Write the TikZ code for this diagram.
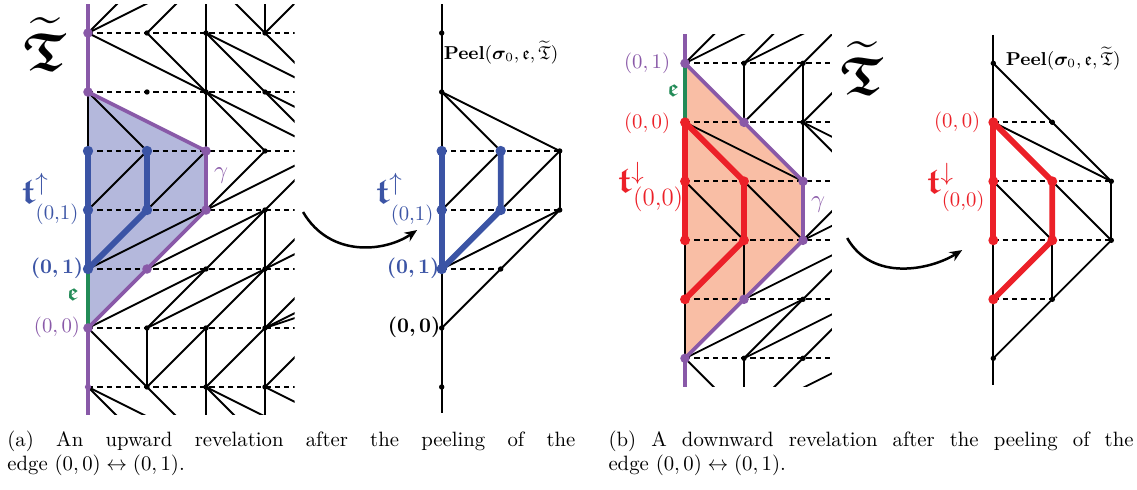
\documentclass[tikz,border=0pt]{standalone}
\usepackage{amsmath,amssymb,bm}
\usetikzlibrary{arrows.meta}
\definecolor{myblue}{RGB}{59,84,165}
\definecolor{mypurple}{RGB}{137,89,168}
\definecolor{mygreen}{RGB}{34,139,87}
\definecolor{myred}{RGB}{236,32,40}
\definecolor{shadeblue}{RGB}{180,184,220}
\definecolor{shadesalmon}{RGB}{249,190,165}
\tikzset{
  edge/.style={line width=0.9pt, black},
  dsh/.style={line width=0.9pt, black, dash pattern=on 2.6pt off 1.9pt},
  pur/.style={line width=1.8pt, mypurple, line cap=round, line join=round},
  grn/.style={line width=1.8pt, mygreen},
  thkblue/.style={line width=2.8pt, myblue, line cap=round, line join=round},
  thkred/.style={line width=2.8pt, myred, line cap=round, line join=round},
  bdot/.style={circle, fill=black, inner sep=0pt, minimum size=2.6pt},
  pdot/.style={circle, fill=mypurple, inner sep=0pt, minimum size=4.6pt},
  bldot/.style={circle, fill=myblue, inner sep=0pt, minimum size=5pt},
  rdot/.style={circle, fill=myred, inner sep=0pt, minimum size=4.8pt},
  lbl/.style={inner sep=0pt},
  arr/.style={line width=1.2pt, -{Stealth[length=6pt,width=5pt]}},
}
\begin{document}
\begin{tikzpicture}[x=1cm,y=-1cm]
\useasboundingbox (0,0) rectangle ({1137/59},{489/59});

% ================= Panel A =================
\begin{scope}[shift={({88/59},{33/59})}]
  \foreach \c in {0,...,6} \foreach \r in {-1,...,7} \coordinate (A\c_\r) at (\c,\r);
  \fill[shadeblue] (A0_1) -- (A2_2) -- (A2_3) -- (A1_4) -- (A0_5) -- cycle;
  \begin{scope}
    \clip (-0.3,-0.49) rectangle (3.5,6.47);
    \foreach \r in {0,...,6} \draw[dsh] (A0_\r) -- (A4_\r);
    \foreach \a/\b in {0_0/1_-1, 0_0/2_-1, 1_0/2_-1, 3_0/2_-1, 3_0/4_-1, 3_0/3_-1, 2_-1/2_2,
      0_0/2_1, 2_1/4_2, 1_0/2_1, 2_1/3_2, 2_0/4_1, 2_0/3_1, 3_1/4_2, 3_1/5_2, 3_0/4_1,
      0_1/1_2, 0_3/1_2, 1_3/2_2, 0_4/2_3, 3_2/2_3, 2_3/4_2, 3_3/4_2,
      0_1/0_2, 1_4/3_3, 1_5/2_4, 2_4/3_3, 0_5/2_4, 1_5/3_4, 2_5/3_4, 3_4/4_3, 3_4/5_3,
      3_3/3_7, 1_5/1_6, 0_5/1_6, 1_6/2_5, 2_5/2_7,
      2_6/3_5, 3_5/4_4, 3_5/5_4, 3_5/6_4,
      0_6/1_7, 0_6/2_7, 1_6/2_7, 2_6/3_7, 2_6/4_7, 3_6/4_5, 3_6/5_7}
      \draw[edge] (A\a) -- (A\b);
    % column 0
    \draw[pur] (0,-0.6) -- (A0_1);
    \draw[pur] (A0_5) -- (0,6.6);
  \end{scope}
  \draw[grn] (A0_4) -- (A0_5);
  \draw[pur] (A0_1) -- (A2_2) -- (A2_3) -- (A1_4) -- (A0_5);
  \draw[thkblue] (A0_2) -- (A0_4);
  \draw[thkblue] (A1_2) -- (A1_3) -- (A0_4);
  \foreach \p in {1_0,2_0,3_0,1_1,2_1,3_1,3_2,3_3,2_4,3_4,1_5,2_5,3_5,1_6,2_6,3_6}
    \node[bdot] (dA\p) at (A\p) {};
  \foreach \p in {0_0,0_1,2_2,2_3,1_4,0_5}
    \node[pdot] (dA\p) at (A\p) {};
  \node[pdot, minimum size=3pt] (dA0_6) at (A0_6) {};
  \foreach \p in {0_2,1_2,0_3,1_3,0_4}
    \node[bldot] (dA\p) at (A\p) {};
\end{scope}

% ================= Panel B =================
\begin{scope}[shift={({441.7/59},{33/59})}]
  \foreach \c in {0,...,2} \foreach \r in {0,...,6} \coordinate (B\c_\r) at (\c,\r);
  \coordinate (Btop) at (0,-0.49);
  \coordinate (Bbot) at (0,6.44);
  \draw[edge] (Btop) -- (Bbot);
  \draw[dsh] (B0_2) -- (B2_2);
  \draw[dsh] (B0_3) -- (B2_3);
  \draw[dsh] (B0_4) -- (B1_4);
  \foreach \a/\b in {0_1/1_2, 0_1/2_2, 0_3/1_2, 1_3/2_2, 2_2/2_3, 0_4/2_3, 0_5/2_3}
    \draw[edge] (B\a) -- (B\b);
  \draw[thkblue] (B0_2) -- (B0_4);
  \draw[thkblue] (B1_2) -- (B1_3) -- (B0_4);
  \foreach \p in {0_0,0_1,0_5,0_6,1_4,2_2,2_3}
    \node[bdot] (dB\p) at (B\p) {};
  \foreach \p in {0_2,0_3,0_4,1_2,1_3}
    \node[bldot] (dB\p) at (B\p) {};
\end{scope}

% ================= Panel C =================
\begin{scope}[shift={({685/59},{63.3/59})}]
  \foreach \c in {0,...,4} \foreach \r in {-1,...,6} \coordinate (C\c_\r) at (\c,\r);
  \fill[shadesalmon] (C0_0) -- (C1_1) -- (C2_2) -- (C2_3) -- (C1_4) -- (C0_5) -- cycle;
  \begin{scope}
    \clip (-0.3,-0.48) rectangle (2.49,5.48);
    \foreach \r in {0,...,5} \draw[dsh] (C0_\r) -- (C3_\r);
    \foreach \a/\b in {0_0/1_-1, 0_0/2_-1, 1_0/2_-1, 1_0/3_-1, 2_0/3_-1,
      1_0/1_1, 1_1/2_0, 2_0/2_2, 2_1/3_0, 2_1/4_2, 2_1/3_2,
      0_1/2_2, 0_2/1_3, 1_2/2_3, 1_3/1_4,
      2_3/3_2, 2_3/4_2,
      1_4/3_3, 2_4/3_3, 0_5/2_4, 1_5/2_4, 1_5/3_4, 2_5/3_4,
      0_5/1_6, 1_5/1_6, 2_5/1_6, 1_6/3_5, 0_3/0_5}
      \draw[edge] (C\a) -- (C\b);
    \draw[pur] (0,-0.6) -- (C0_0);
    \draw[pur] (C0_5) -- (0,5.6);
  \end{scope}
  \draw[grn] (C0_0) -- (C0_1);
  \draw[pur] (C0_0) -- (C2_2) -- (C2_3) -- (C0_5);
  \draw[thkred] (C0_1) -- (C0_3);
  \draw[thkred] (C0_1) -- (C1_2) -- (C1_3) -- (C0_4);
  \foreach \p in {1_0,2_0,2_1,2_4,1_5,2_5}
    \node[bdot] (dC\p) at (C\p) {};
  \foreach \p in {0_0,1_1,2_2,2_3,1_4,0_5}
    \node[pdot] (dC\p) at (C\p) {};
  \foreach \p in {0_1,0_2,0_3,1_2,1_3,0_4}
    \node[rdot] (dC\p) at (C\p) {};
\end{scope}

% ================= Panel D =================
\begin{scope}[shift={({993.3/59},{63.3/59})}]
  \foreach \c in {0,...,2} \foreach \r in {0,...,5} \coordinate (D\c_\r) at (\c,\r);
  \coordinate (Dtop) at (0,-0.48);
  \coordinate (Dbot) at (0,5.46);
  \draw[edge] (Dtop) -- (Dbot);
  \draw[dsh] (D0_1) -- (D1_1);
  \draw[dsh] (D0_2) -- (D2_2);
  \draw[dsh] (D0_3) -- (D2_3);
  \draw[dsh] (D0_4) -- (D1_4);
  \foreach \a/\b in {0_0/2_2, 0_1/2_2, 0_2/1_3, 1_2/2_3, 2_2/2_3, 1_3/1_4, 2_3/0_5}
    \draw[edge] (D\a) -- (D\b);
  \draw[thkred] (D0_1) -- (D0_3);
  \draw[thkred] (D0_1) -- (D1_2) -- (D1_3) -- (D0_4);
  \foreach \p in {0_0,1_1,2_2,2_3,1_4,0_5}
    \node[bdot] (dD\p) at (D\p) {};
  \foreach \p in {0_1,0_2,0_3,0_4,1_2,1_3}
    \node[rdot] (dD\p) at (D\p) {};
\end{scope}

% ================= Labels and arrows (pixel coordinates) =================
\begin{scope}[x=0.0169492cm, y=-0.0169492cm]
  % panel A
  \node[lbl] (TA) at (45,44) {\fontsize{26}{30}\selectfont$\widetilde{\bm{\mathfrak{T}}}$};
  \node[lbl, text=myblue] (tA) at (35,188) {\LARGE$\bm{\mathfrak{t}}^{\uparrow}$};
  \node[lbl, text=myblue] (tAs) at (57,214) {(0,1)};
  \node[lbl, text=myblue] (lA01) at (57,268) {$\bm{(0,1)}$};
  \node[lbl, text=mygreen] (eA) at (73,295) {\large$\bm{\mathfrak{e}}$};
  \node[lbl, text=mypurple] (lA00) at (57,327) {$(0,0)$};
  \node[lbl, text=mypurple] (gA) at (221,176) {\large$\gamma$};
  % panel B
  \node[lbl] (PB) at (501,53) {\small\textbf{Peel}$(\bm{\sigma}_0,\mathfrak{e},\widetilde{\mathfrak{T}})$};
  \node[lbl, text=myblue] (tB) at (389,188) {\LARGE$\bm{\mathfrak{t}}^{\uparrow}$};
  \node[lbl, text=myblue] (tBs) at (412,215) {(0,1)};
  \node[lbl, text=myblue] (lB01) at (413,268) {$\bm{(0,1)}$};
  \node[lbl] (lB00) at (414,327) {$\bm{(0,0)}$};
  % panel C
  \node[lbl] (TC) at (862,68) {\fontsize{26}{30}\selectfont$\widetilde{\bm{\mathfrak{T}}}$};
  \node[lbl, text=mypurple] (lC01) at (647,63) {$(0,1)$};
  \node[lbl, text=mygreen] (eC) at (673,91) {\large$\bm{\mathfrak{e}}$};
  \node[lbl, text=myred] (lC00) at (647,123) {$(0,0)$};
  \node[lbl, text=myred] (tC) at (631,177) {\LARGE$\bm{\mathfrak{t}}^{\downarrow}$};
  \node[lbl, text=myred] (tCs) at (658,199) {\large(0,0)};
  \node[lbl, text=mypurple] (gC) at (818,205) {\large$\gamma$};
  % panel D
  \node[lbl] (PD) at (1063,59) {\small\textbf{Peel}$(\bm{\sigma}_0,\mathfrak{e},\widetilde{\mathfrak{T}})$};
  \node[lbl, text=myred] (lD00) at (957,122) {$(0,0)$};
  \node[lbl, text=myred] (tD) at (940,178) {\LARGE$\bm{\mathfrak{t}}^{\downarrow}$};
  \node[lbl, text=myred] (tDs) at (963,201) {(0,0)};
  % arrows
  \coordinate (aAs) at (303,212);
  \coordinate (aAe) at (417,230);
  \draw[arr] (aAs) .. controls (330,258) and (385,252) .. (aAe);
  \coordinate (aDs) at (847,238);
  \coordinate (aDe) at (962,250);
  \draw[arr] (aDs) .. controls (872,282) and (930,270) .. (aDe);
  % captions
  \node[lbl, anchor=north west, text width=9.627cm, align=justify] (capA) at (7,430)
    {(a) An upward revelation after the peeling of the\linebreak edge $(0,0)\leftrightarrow(0,1)$.};
  \node[lbl, anchor=north west, text width=8.898cm, align=justify] (capB) at (608,430)
    {(b) A downward revelation after the peeling of the\linebreak edge $(0,0)\leftrightarrow(0,1)$.};
\end{scope}
\end{tikzpicture}
\end{document}
